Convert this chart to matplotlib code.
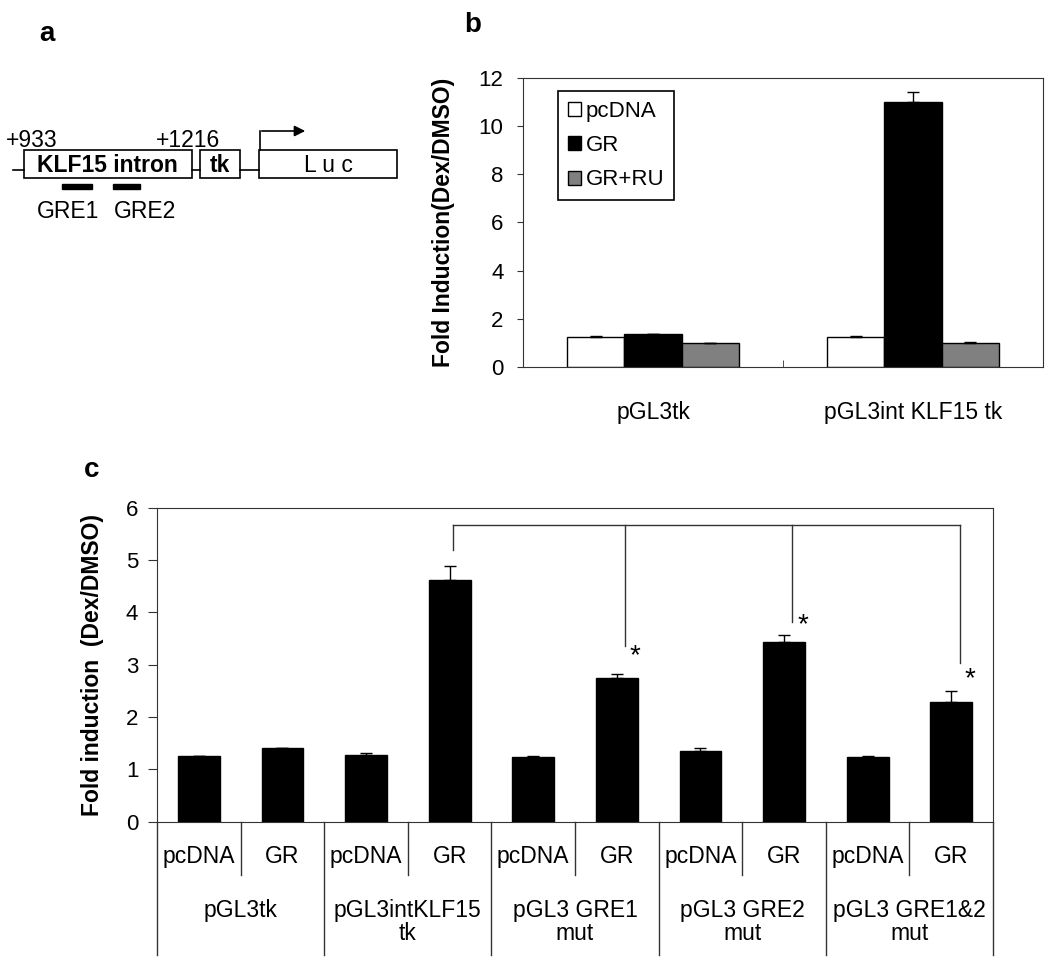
import matplotlib.pyplot as plt
from matplotlib.patches import Rectangle, Patch
import numpy as np

plt.rcParams['font.family'] = ['Liberation Sans', 'DejaVu Sans']

# panel b: luciferase fold induction, two reporter constructs
b_groups = ['pGL3tk', 'pGL3int KLF15 tk']
b_series = ['pcDNA', 'GR', 'GR+RU']
b_pcdna = [1.27, 1.27]
b_gr = [1.37, 11.0]
b_gr_ru = [1.0, 1.0]
b_pcdna_err = [0.03, 0.03]
b_gr_err = [0.03, 0.4]
b_gr_ru_err = [0.01, 0.03]

# panel c: GRE mutants, pcDNA / GR per construct
c_constructs = ['pGL3tk', 'pGL3intKLF15\ntk', 'pGL3 GRE1\nmut',
                'pGL3 GRE2\nmut', 'pGL3 GRE1&2\nmut']
c_treatments = ['pcDNA', 'GR']
c_values = [1.26, 1.40, 1.27, 4.62, 1.24, 2.75, 1.35, 3.43, 1.24, 2.28]
c_errors = [0.0, 0.0, 0.04, 0.26, 0.01, 0.08, 0.06, 0.13, 0.01, 0.22]
c_ref_bar = 3
c_star_bars = [5, 7, 9]
c_drop_ends = [3.35, 3.82, 3.03]
c_star_y = [3.16, 3.75, 2.72]

W, H = 1050, 973
fig = plt.figure(figsize=(W / 100, H / 100), dpi=100)
line_col = '#333333'
fs = 16.5


def px_axes(left, top, right, bottom):
    return fig.add_axes([left / W, 1 - bottom / H, (right - left) / W, (bottom - top) / H])


# ---- panel a: construct schematic (drawn in pixel units) ----
ax_a = px_axes(0, 0, 420, 250)
ax_a.set_xlim(0, 420)
ax_a.set_ylim(250, 0)
ax_a.axis('off')
lw = 1.2
ax_a.plot([13, 24], [170, 170], color='black', lw=lw)
ax_a.plot([192, 200], [170, 170], color='black', lw=lw)
ax_a.plot([240, 259], [170, 170], color='black', lw=lw)
for x0, w in [(24, 168), (200, 40), (259, 138)]:
    ax_a.add_patch(Rectangle((x0, 150), w, 28, fill=False, edgecolor='black', lw=lw))
ax_a.plot([259.5, 259.5], [150, 131], color='black', lw=lw)
ax_a.annotate('', xy=(308, 131), xytext=(259, 131),
              arrowprops=dict(arrowstyle='-|>', color='black', lw=lw, mutation_scale=16))
ax_a.add_patch(Rectangle((62, 184), 30, 4.5, color='black'))
ax_a.add_patch(Rectangle((113, 184), 27, 4.5, color='black'))
ax_a.text(107, 165, 'KLF15 intron', fontsize=fs, fontweight='bold', ha='center', va='center')
ax_a.text(220, 165, 'tk', fontsize=fs, fontweight='bold', ha='center', va='center')
ax_a.text(328, 165, 'L u c', fontsize=fs, ha='center', va='center')
ax_a.text(6, 147, '+933', fontsize=fs, ha='left', va='baseline')
ax_a.text(156, 147, '+1216', fontsize=fs, ha='left', va='baseline')
ax_a.text(68, 212, 'GRE1', fontsize=fs, ha='center', va='center')
ax_a.text(145, 212, 'GRE2', fontsize=fs, ha='center', va='center')

fig.text(47 / W, 1 - 34 / H, 'a', fontsize=20, fontweight='bold', ha='center', va='center')
fig.text(473 / W, 1 - 25 / H, 'b', fontsize=20, fontweight='bold', ha='center', va='center')
fig.text(92 / W, 1 - 470 / H, 'c', fontsize=20, fontweight='bold', ha='center', va='center')

# ---- panel b ----
ax_b = px_axes(523, 77.7, 1043, 367.3)
xb = np.arange(len(b_groups))
bw = 0.221
for offs, vals, errs, col, lab in [(-bw, b_pcdna, b_pcdna_err, 'white', b_series[0]),
                                   (0, b_gr, b_gr_err, 'black', b_series[1]),
                                   (bw, b_gr_ru, b_gr_ru_err, '#808080', b_series[2])]:
    ax_b.bar(xb + offs, vals, bw, color=col, edgecolor='black', linewidth=1,
             yerr=[np.zeros(len(vals)), errs],
             error_kw=dict(ecolor='black', elinewidth=1, capsize=4, capthick=1), label=lab)
ax_b.set_xlim(-0.5, 1.5)
ax_b.set_ylim(0, 12)
ax_b.set_yticks(range(0, 13, 2))
ax_b.set_xticks(xb)
ax_b.set_xticklabels(b_groups, fontsize=fs)
ax_b.set_xticks([0.5], minor=True)
ax_b.tick_params(axis='x', which='major', length=0, pad=24)
ax_b.tick_params(axis='x', which='minor', direction='in', length=5, color=line_col)
ax_b.tick_params(axis='y', labelsize=16, length=4, pad=10, color=line_col)
for s in ax_b.spines.values():
    s.set_color(line_col)
ax_b.set_ylabel('Fold Induction(Dex/DMSO)', fontsize=16.5, fontweight='bold')
ax_b.yaxis.set_label_coords(-(523 - 455) / 520, 0.5)
handles = [Patch(facecolor=c, edgecolor='black', lw=1) for c in ['white', 'black', '#808080']]
leg = ax_b.legend(handles, b_series, loc='upper left', bbox_to_anchor=(0.067, 0.955),
                  borderaxespad=0, fontsize=16, fancybox=False, edgecolor='black',
                  framealpha=1, handlelength=0.6, handleheight=0.6,
                  handletextpad=0.2, labelspacing=0.6, borderpad=0.45)
leg.get_frame().set_linewidth(1.2)

# ---- panel c ----
ax_c = px_axes(157, 507.7, 993, 821.7)
xc = np.arange(len(c_values))
ax_c.bar(xc, c_values, 0.5, color='black', edgecolor='black',
         yerr=[np.zeros(len(c_values)), c_errors],
         error_kw=dict(ecolor='black', elinewidth=1, capsize=4, capthick=1))
ax_c.set_xlim(-0.5, len(c_values) - 0.5)
ax_c.set_ylim(0, 6)
ax_c.set_yticks(range(0, 7))
ax_c.set_xticks([])
ax_c.tick_params(axis='y', labelsize=16, length=6.5, pad=7, color=line_col)
for s in ax_c.spines.values():
    s.set_color(line_col)
ax_c.set_ylabel('Fold induction  (Dex/DMSO)', fontsize=16.5, fontweight='bold')
ax_c.yaxis.set_label_coords(-(157 - 104) / 836, 0.5)

# category table below the axis
trans = ax_c.get_xaxis_transform()
for k in range(len(c_values) + 1):
    pos = k - 0.5
    low = -0.4245 if k % 2 == 0 else -0.17
    ax_c.plot([pos, pos], [0, low], transform=trans, clip_on=False, color=line_col, lw=1)
for i in xc:
    ax_c.text(i, -0.111, c_treatments[i % 2], transform=trans, fontsize=fs,
              ha='center', va='center')
for j, name in enumerate(c_constructs):
    ax_c.text(2 * j + 0.5, -0.245, name, transform=trans, fontsize=fs,
              ha='center', va='top', linespacing=1.0)

# significance bracket
top_y = 5.67
ref_x = c_ref_bar + 0.04
ax_c.plot([ref_x, ref_x], [5.2, top_y], color=line_col, lw=1)
drop_x = [b + 0.1 for b in c_star_bars]
ax_c.plot([ref_x, drop_x[-1]], [top_y, top_y], color=line_col, lw=1)
for dx, end, b, sy in zip(drop_x, c_drop_ends, c_star_bars, c_star_y):
    ax_c.plot([dx, dx], [end, top_y], color=line_col, lw=1)
    ax_c.text(b + 0.22, sy, '*', fontsize=20, ha='center', va='center')

fig.savefig('out.png', dpi=100)
